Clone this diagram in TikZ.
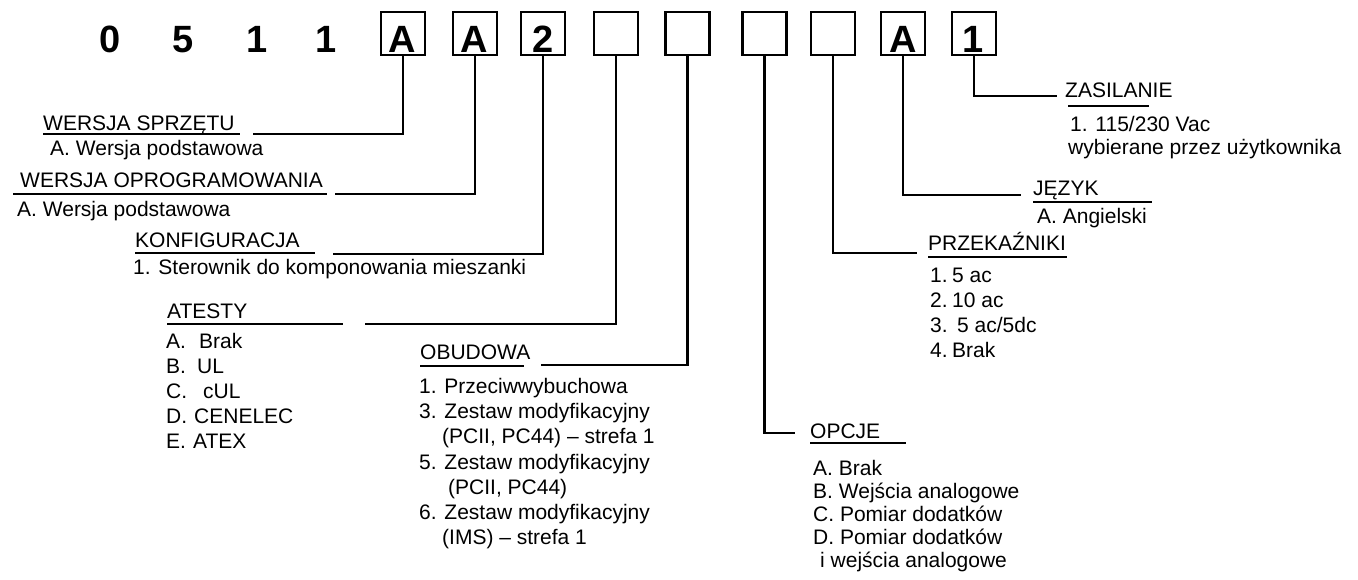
\documentclass[tikz,border=0pt]{standalone}
\usepackage{fontspec}
\setmainfont{Liberation Sans}
\newcommand\lbx[2]{\makebox[#1][l]{#2}}
\begin{document}
\begin{tikzpicture}[x=1pt,y=-1pt,
  txt/.style={anchor=base west,inner sep=0pt,font=\fontsize{21}{25}\selectfont},
  digit/.style={anchor=base,inner sep=0pt,font=\fontsize{38}{40}\selectfont\bfseries},
  codebox/.style={draw,line width=2.2pt,minimum width=44pt,minimum height=43pt,inner sep=0pt,outer sep=0pt,anchor=north},
  conn/.style={line width=2.5pt},
  uline/.style={line width=1.2pt}]
\useasboundingbox (0,0) rectangle (1358,579);

% fixed digits
\node[digit] (d1) at (110,52) {0};
\node[digit] (d2) at (183,52) {5};
\node[digit] (d3) at (257,52) {1};
\node[digit] (d4) at (326,52) {1};

% code boxes
\foreach \n/\x in {1/403,2/475,3/543,4/616,5/687.5,6/764.5,7/833,8/903,9/974}
  \node[codebox] (b\n) at (\x,12) {};
\node[digit] (l1) at (402,52) {A};
\node[digit] (l2) at (474,52) {A};
\node[digit] (l3) at (543,52) {2};
\node[digit] (l8) at (903,52) {A};
\node[digit] (l9) at (973,52) {1};

% connector ends
\coordinate (e1) at (253,134);
\coordinate (e2) at (335,194);
\coordinate (e3) at (333,254);
\coordinate (e4) at (365,324);
\coordinate (e5) at (541,365);
\coordinate (e6) at (795,433);
\coordinate (e7) at (917,253);
\coordinate (e8) at (1021,195);
\coordinate (e9) at (1057,96);
\foreach \n in {1,...,9}
  \draw[conn] (b\n.south) |- (e\n);

% WERSJA SPRZETU
\node[txt] (h1) at (43,130) {WERSJA SPRZĘTU};
\draw[uline] (43,134) -- (240,134);
\node[txt] (i1) at (50,155) {A. Wersja podstawowa};

% WERSJA OPROGRAMOWANIA
\node[txt] (h2) at (20,187) {WERSJA OPROGRAMOWANIA};
\draw[uline] (13,194) -- (327,194);
\node[txt] (i2) at (17,216) {A. Wersja podstawowa};

% KONFIGURACJA
\node[txt] (h3) at (135,247) {KONFIGURACJA};
\draw[uline] (135,253) -- (315,253);
\node[txt] (i3) at (133,274) {1. Sterownik do komponowania mieszanki};

% ATESTY
\node[txt] (h4) at (167,318) {ATESTY};
\draw[uline] (167,324) -- (343,324);
\node[txt] (a1) at (166,348) {\lbx{33pt}{A.}Brak};
\node[txt] (a2) at (166,373) {\lbx{31pt}{B.}UL};
\node[txt] (a3) at (166,398) {\lbx{37pt}{C.}cUL};
\node[txt] (a4) at (166,423) {\lbx{28pt}{D.}CENELEC};
\node[txt] (a5) at (166,448) {\lbx{27pt}{E.}ATEX};

% OBUDOWA
\node[txt] (h5) at (420,359) {OBUDOWA};
\draw[uline] (420,366) -- (524,366);
\node[txt] (o1) at (419,393.5) {1. Przeciwwybuchowa};
\node[txt] (o2) at (419,418.7) {3. Zestaw modyfikacyjny};
\node[txt] (o3) at (442,443.8) {(PCII, PC44) – strefa 1};
\node[txt] (o4) at (419,469) {5. Zestaw modyfikacyjny};
\node[txt] (o5) at (448,494.1) {(PCII, PC44)};
\node[txt] (o6) at (419,519.3) {6. Zestaw modyfikacyjny};
\node[txt] (o7) at (442,544.4) {(IMS) – strefa 1};

% OPCJE
\node[txt] (h6) at (810,438) {OPCJE};
\draw[uline] (810,443) -- (906,443);
\node[txt] (p1) at (813,475) {A. Brak};
\node[txt] (p2) at (813,498) {B. Wejścia analogowe};
\node[txt] (p3) at (813,521) {C. Pomiar dodatków};
\node[txt] (p4) at (813,544) {D. Pomiar dodatków};
\node[txt] (p5) at (820,567) {i wejścia analogowe};

% PRZEKAZNIKI
\node[txt] (h7) at (928,250) {PRZEKAŹNIKI};
\draw[uline] (928,257) -- (1067,257);
\node[txt] (r1) at (930,282) {\lbx{22pt}{1.}5 ac};
\node[txt] (r2) at (930,307.2) {\lbx{22pt}{2.}10 ac};
\node[txt] (r3) at (930,332.4) {\lbx{27pt}{3.}5 ac/5dc};
\node[txt] (r4) at (930,357.6) {\lbx{22pt}{4.}Brak};

% JEZYK
\node[txt] (h8) at (1033,195) {JĘZYK};
\draw[uline] (1033,202) -- (1152,202);
\node[txt] (j1) at (1037,223) {A. Angielski};

% ZASILANIE
\node[txt] (h9) at (1065,97) {ZASILANIE};
\draw[uline] (1068,106) -- (1149,106);
\node[txt] (z1) at (1070,131) {1. 115/230 Vac};
\node[txt] (z2) at (1068,154) {wybierane przez użytkownika};
\end{tikzpicture}
\end{document}
